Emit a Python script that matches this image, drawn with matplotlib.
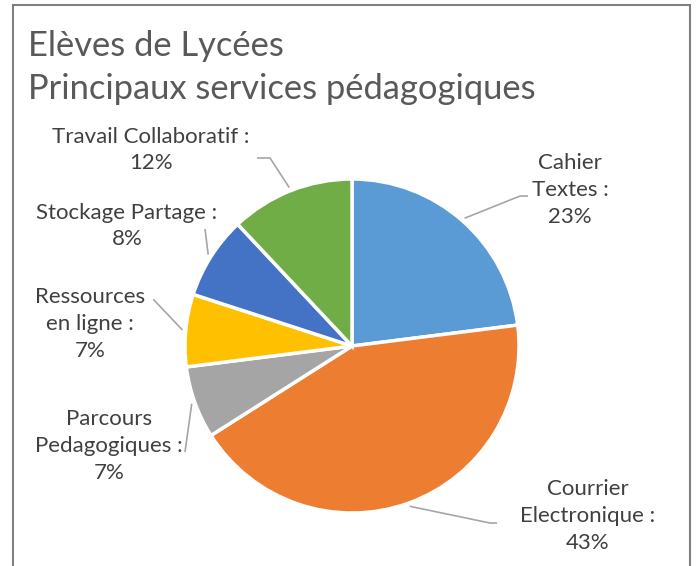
import numpy as np
import matplotlib
matplotlib.use("Agg")
import matplotlib.pyplot as plt
from matplotlib.patches import Rectangle

plt.rcParams['font.family'] = ['Lato', 'DejaVu Sans']

# data
categories = ["Cahier\nTextes", "Courrier\nElectronique", "Parcours\nPedagogiques",
              "Ressources\nen ligne", "Stockage Partage", "Travail Collaboratif"]
shares = [23, 43, 7, 7, 8, 12]
colors = ["#5B9BD5", "#ED7D31", "#A5A5A5", "#FFC000", "#4472C4", "#70AD47"]

W, H = 697, 566
R = 167.0          # pie radius in pixels
cx, cy = 352, 346  # pie centre in pixels

fig = plt.figure(figsize=(W / 100, H / 100), dpi=100)
ax = fig.add_axes([0, 0, 1, 1])

wedges, _ = ax.pie(shares, colors=colors, startangle=90, counterclock=False,
                   radius=1.0, wedgeprops=dict(edgecolor='white', linewidth=2.5))

ax.set_aspect('auto')
ax.set_xlim(-cx / R, (W - cx) / R)
ax.set_ylim((cy - H) / R, cy / R)
ax.axis('off')

# label layout: (elbow point, end point, text centre) in pie units
layout = [
    ((1.006, 0.898), (1.054, 0.898), (1.305, 0.934)),
    ((0.826, -1.060), (0.868, -1.060), (1.413, -1.018)),
    ((-1.0, -0.635), (-1.0, -0.635), (-1.455, -0.599)),
    ((-1.19, 0.28), (-1.19, 0.28), (-1.569, 0.132)),
    ((-0.88, 0.70), (-0.88, 0.70), (-1.347, 0.719)),
    ((-0.491, 1.126), (-0.569, 1.126), (-1.204, 1.174)),
]

for w, cat, v, (elb, end, txt) in zip(wedges, categories, shares, layout):
    ang = np.deg2rad((w.theta1 + w.theta2) / 2)
    x0, y0 = 1.02 * np.cos(ang), 1.02 * np.sin(ang)
    ax.plot([x0, elb[0], end[0]], [y0, elb[1], end[1]], color="#A6A6A6", lw=1.2,
            solid_capstyle='butt')
    ax.text(txt[0], txt[1], f"{cat} :\n{v}%", ha='center', va='center',
            fontsize=16, color="#404040", linespacing=1.42)

fig.text(28 / W, 1 - 30 / H, "Elèves de Lycées\nPrincipaux services pédagogiques",
         ha='left', va='top', fontsize=24.8, color="#595959", linespacing=1.42)

# chart frame
fig.patches.append(Rectangle((13 / W, -0.1), (690 - 13) / W, 1.1 - 5 / H,
                             transform=fig.transFigure, fill=False,
                             edgecolor="#7F7F7F", lw=1.5))

fig.savefig("out.png", dpi=100)
